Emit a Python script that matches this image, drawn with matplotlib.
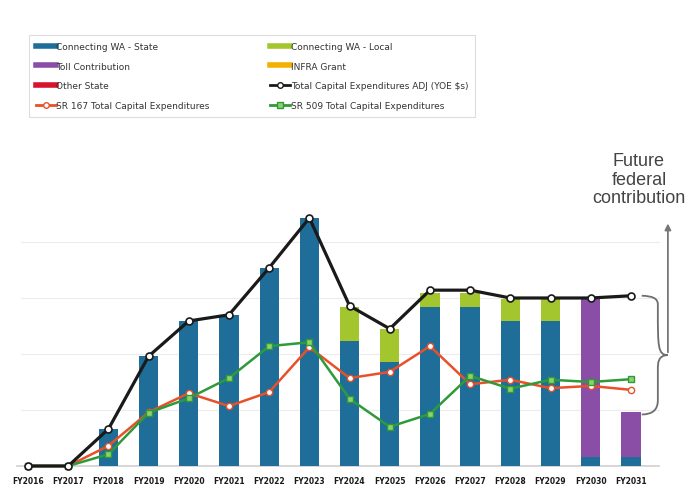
import matplotlib
matplotlib.use("Agg")
import matplotlib.pyplot as plt
from matplotlib.lines import Line2D
from matplotlib.path import Path
from matplotlib.patches import PathPatch
import numpy as np

years = ["FY2016", "FY2017", "FY2018", "FY2019", "FY2020", "FY2021", "FY2022", "FY2023",
         "FY2024", "FY2025", "FY2026", "FY2027", "FY2028", "FY2029", "FY2030", "FY2031"]
cwa_state = [0, 0, 0.66, 1.96, 2.59, 2.70, 3.54, 4.43, 2.23, 1.86, 2.84, 2.84, 2.59, 2.59, 0.16, 0.16]
cwa_local = [0, 0, 0, 0, 0, 0, 0, 0, 0.61, 0.59, 0.25, 0.25, 0.39, 0.39, 0, 0]
toll = [0, 0, 0, 0, 0, 0, 0, 0, 0, 0, 0, 0, 0, 0, 2.82, 0.80]
infra = [0] * 16
other_state = [0] * 16
total_adj = [0, 0, 0.66, 1.96, 2.59, 2.70, 3.54, 4.43, 2.86, 2.45, 3.14, 3.14, 3.0, 3.0, 3.0, 3.04]
sr167 = [0, 0, 0.36, 0.96, 1.30, 1.07, 1.32, 2.12, 1.57, 1.68, 2.14, 1.46, 1.54, 1.39, 1.43, 1.36]
sr509 = [0, 0, 0.21, 0.95, 1.21, 1.57, 2.14, 2.21, 1.20, 0.70, 0.93, 1.61, 1.38, 1.54, 1.50, 1.55]

c_state = "#1f6e99"
c_local = "#a3c62e"
c_toll = "#8a4ea6"
c_infra = "#f2b000"
c_other = "#d7132e"
c_total = "#1a1a1a"
c_167 = "#e8502a"
c_509 = "#2e9a3a"

fig = plt.figure(figsize=(6.9, 4.89), dpi=100)
ax = fig.add_axes([0, (489 - 475) / 489, 1, (475 - 140) / 489])
x = np.arange(len(years))
ax.set_xlim(-0.697, 16.47)
ax.set_ylim(-8 / 56, (467 - 140) / 56)
for s in ax.spines.values():
    s.set_visible(False)
ax.set_yticks([])
ax.set_xticks(x)
ax.set_xticklabels(years, fontsize=5.5, fontweight="bold", color="#1a1a1a")
ax.tick_params(axis="x", length=0, pad=1.5)

for g in [1, 2, 3, 4]:
    ax.axhline(g, xmin=0.03, xmax=0.955, color="#ececec", lw=0.8, zorder=0)
ax.axhline(0, xmin=0.025, xmax=0.955, color="#cfcfcf", lw=1.2, zorder=1)

w = 0.48
st = np.array(cwa_state)
lo = np.array(cwa_local)
to = np.array(toll)
ax.bar(x, st, w, color=c_state, zorder=2)
ax.bar(x, lo, w, bottom=st, color=c_local, zorder=2)
ax.bar(x, to, w, bottom=st + lo, color=c_toll, zorder=2)
ax.bar(x, infra, w, bottom=st + lo + to, color=c_infra, zorder=2)
ax.bar(x, other_state, w, bottom=st + lo + to, color=c_other, zorder=2)

ax.plot(x, sr167, color=c_167, lw=1.8, marker="o", ms=4.5, mfc="white", mec=c_167, mew=1.0,
        zorder=4, clip_on=False)
ax.plot(x, sr509, color=c_509, lw=1.8, marker="s", ms=4.5, mfc="#8fd06a", mec=c_509, mew=1.0,
        zorder=4, clip_on=False)
ax.plot(x, total_adj, color=c_total, lw=2.3, marker="o", ms=5, mfc="white", mec=c_total, mew=1.2,
        zorder=5, clip_on=False)

# curly brace and arrow for future federal contribution
ytop = total_adj[-1]
ybot = st[-1] + to[-1] - 0.04
ymid = (ytop + ybot) / 2
x0, x1, x2 = 15.27, 15.67, 15.92
verts = [(x0, ytop), (x1, ytop), (x1, ytop - 0.15), (x1, ytop - 0.25),
         (x1, ymid + 0.15), (x1, ymid + 0.0), (x2, ymid),
         (x1, ymid), (x1, ymid - 0.15), (x1, ymid - 0.25),
         (x1, ybot + 0.25), (x1, ybot), (x0, ybot)]
codes = [Path.MOVETO, Path.CURVE3, Path.CURVE3, Path.LINETO,
         Path.CURVE4, Path.CURVE4, Path.CURVE4,
         Path.CURVE4, Path.CURVE4, Path.CURVE4,
         Path.LINETO, Path.CURVE3, Path.CURVE3]
ax.add_patch(PathPatch(Path(verts, codes), fill=False, ec="#6e6e6e", lw=1.3, clip_on=False, zorder=3))
ax.annotate("", xy=(x2, 4.38), xytext=(x2, ymid),
            arrowprops=dict(arrowstyle="-|>", color="#777777", lw=1.3, mutation_scale=9),
            annotation_clip=False)
ax.text(15.2, 5.6, "Future\nfederal\ncontribution", ha="center", va="top", fontsize=13,
        color="#444444", linespacing=1.1, family=["Liberation Sans", "DejaVu Sans"])

handles = [
    Line2D([], [], color=c_state, lw=4),
    Line2D([], [], color=c_local, lw=4),
    Line2D([], [], color=c_toll, lw=4),
    Line2D([], [], color=c_infra, lw=4),
    Line2D([], [], color=c_other, lw=4),
    Line2D([], [], color=c_total, lw=2, marker="o", ms=4, mfc="white", mec=c_total),
    Line2D([], [], color=c_167, lw=2, marker="o", ms=4, mfc="white", mec=c_167),
    Line2D([], [], color=c_509, lw=2, marker="s", ms=4, mfc="#8fd06a", mec=c_509),
]
labels = ["Connecting WA - State", "Connecting WA - Local", "Toll Contribution", "INFRA Grant",
          "Other State", "Total Capital Expenditures ADJ (YOE $s)",
          "SR 167 Total Capital Expenditures", "SR 509 Total Capital Expenditures"]
# reorder for column-major legend (2 columns)
order = [0, 2, 4, 6, 1, 3, 5, 7]
leg = fig.legend([handles[i] for i in order], [labels[i] for i in order], ncol=2,
                 loc="lower left", mode="expand",
                 bbox_to_anchor=(24 / 690, 1 - 123 / 489, 456 / 690, 85 / 489),
                 frameon=True, fancybox=False, edgecolor="#d5d5d5",
                 handlelength=2.2, handletextpad=0.1, labelspacing=1.2, borderpad=0.8,
                 prop={"family": ["Liberation Sans Narrow", "DejaVu Sans"], "size": 6.5})
for t in leg.get_texts():
    t.set_color("#333333")
leg.get_frame().set_linewidth(0.8)

fig.savefig("out.png", dpi=100)
